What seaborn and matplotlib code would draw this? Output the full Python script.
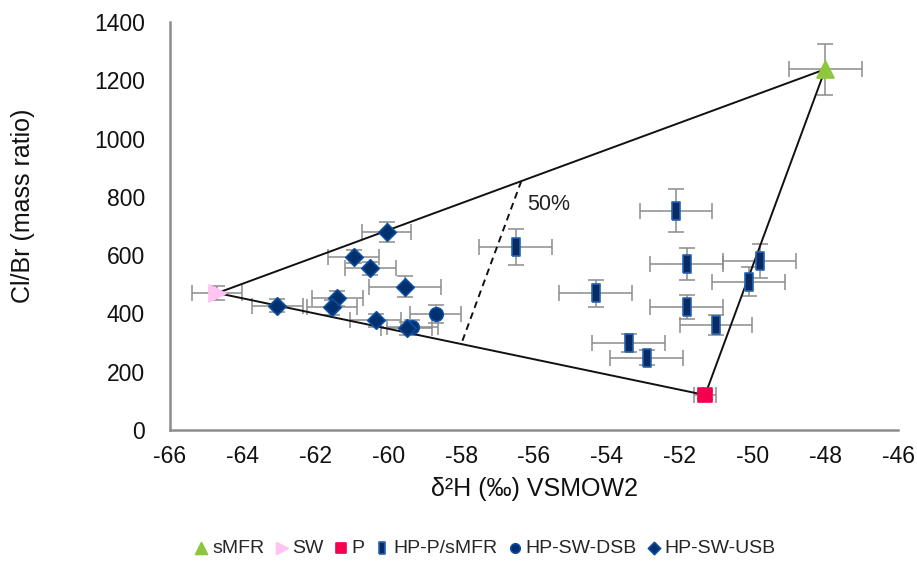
"""
Diagrama de mistura Cl/Br vs δ2H com membros extremos e amostras HP
"""

import numpy as np
import pandas as pd
import matplotlib
matplotlib.use('Agg')
import matplotlib.pyplot as plt
import seaborn as sns

# Membros extremos
end_names = ['sMFR', 'SW', 'P']
end_d2h = [-48.0, -64.7, -51.3]
end_clbr = [1238, 470, 120]
end_d2h_err = [1.0, 0.69, 0.3]
end_clbr_err = [87, 25, 15]

# HP-P/sMFR
hpp_d2h = [-52.1, -56.5, -51.8, -49.8, -50.1, -54.3, -51.8, -51.0, -53.4, -52.9]
hpp_clbr = [752, 627, 569, 580, 509, 469, 423, 360, 300, 248]
hpp_d2h_err = [1.0, 1.0, 1.0, 1.0, 1.0, 1.0, 1.0, 1.0, 1.0, 1.0]
hpp_clbr_err = [74, 62, 56, 57, 50, 47, 41, 35, 31, 26]

# HP-SW-DSB
dsb_d2h = [-58.7, -59.35]
dsb_clbr = [398, 352]
dsb_d2h_err = [0.7, 0.7]
dsb_clbr_err = [30, 25]

# HP-SW-USB
usb_d2h = [-60.05, -60.95, -60.5, -59.55, -63.05, -61.4, -61.55, -60.35, -59.5]
usb_clbr = [680, 595, 555, 492, 427, 452, 421, 377, 349]
usb_d2h_err = [0.68, 0.7, 0.7, 0.99, 0.69, 0.7, 0.7, 0.7, 0.7]
usb_clbr_err = [34, 23, 23, 35, 22, 25, 25, 22, 22]

rows = []
for i, n in enumerate(end_names):
    rows.append([n, end_d2h[i], end_clbr[i], end_d2h_err[i], end_clbr_err[i]])
for grp, xs, ys, xe, ye in [
    ('HP-P/sMFR', hpp_d2h, hpp_clbr, hpp_d2h_err, hpp_clbr_err),
    ('HP-SW-DSB', dsb_d2h, dsb_clbr, dsb_d2h_err, dsb_clbr_err),
    ('HP-SW-USB', usb_d2h, usb_clbr, usb_d2h_err, usb_clbr_err),
]:
    for a, b, c, d in zip(xs, ys, xe, ye):
        rows.append([grp, a, b, c, d])
df = pd.DataFrame(rows, columns=['group', 'd2h', 'clbr', 'd2h_err', 'clbr_err'])

sns.set_style('white')
plt.rcParams['font.family'] = ['Liberation Sans', 'DejaVu Sans']
plt.rcParams['axes.unicode_minus'] = False

fig = plt.figure(figsize=(9.17, 5.66), dpi=100)
ax = fig.add_axes([0.1854, 0.2403, 0.7939, 0.7208])

# Barras de erro
ax.errorbar(df['d2h'], df['clbr'], xerr=df['d2h_err'], yerr=df['clbr_err'],
            fmt='none', ecolor='#8c8c8c', elinewidth=1.1, capsize=5.8,
            capthick=1.1, zorder=1)

# Linhas do triângulo de mistura
sm = (end_d2h[0], end_clbr[0])
sw = (end_d2h[1], end_clbr[1])
pp = (end_d2h[2], end_clbr[2])
for a, b in [(sw, sm), (sm, pp), (pp, sw)]:
    ax.plot([a[0], b[0]], [a[1], b[1]], color='#111111', lw=1.4, zorder=2)

# Linha de 50%
m1 = ((sw[0] + sm[0]) / 2, (sw[1] + sm[1]) / 2)
m2 = ((sw[0] + pp[0]) / 2, (sw[1] + pp[1]) / 2)
ax.plot([m1[0], m2[0]], [m1[1], m2[1]], color='#111111', lw=1.4,
        ls=(0, (3.5, 2.5)), zorder=2)
ax.text(-55.6, 775, '50%', fontsize=15.5, ha='center', va='center', color='#222222')

rect = [(-0.23, -0.5), (0.23, -0.5), (0.23, 0.5), (-0.23, 0.5), (-0.23, -0.5)]
styles = {
    'sMFR': dict(marker='^', color='#8dc63f', edge='#8dc63f', s=150),
    'SW': dict(marker='>', color='#ffc4f2', edge='#ffc4f2', s=150),
    'P': dict(marker='s', color='#f5004f', edge='#f5004f', s=105),
    'HP-P/sMFR': dict(marker=rect, color='#0a2a66', edge='#2563ae', s=170),
    'HP-SW-DSB': dict(marker='o', color='#00306e', edge='#0b4ea2', s=95),
    'HP-SW-USB': dict(marker='D', color='#00306e', edge='#0b4ea2', s=80),
}

for grp, st in styles.items():
    sub = df[df['group'] == grp]
    sns.scatterplot(data=sub, x='d2h', y='clbr', marker=st['marker'], s=st['s'],
                    color=st['color'], edgecolor=st['edge'], linewidth=1.2,
                    ax=ax, zorder=3, label=grp)

ax.set_xlim(-66, -46)
ax.set_ylim(0, 1400)
ax.set_xticks(np.arange(-66, -45, 2))
ax.set_yticks(np.arange(0, 1401, 200))
ax.set_yticks(np.arange(100, 1400, 200), minor=True)

for s in ['top', 'right']:
    ax.spines[s].set_visible(False)
for s in ['left', 'bottom']:
    ax.spines[s].set_color('#8c8c8c')
    ax.spines[s].set_linewidth(1.8)

ax.tick_params(axis='both', which='major', direction='out', length=6,
               width=1.5, color='#8c8c8c', labelsize=16.5, labelcolor='#111111')
ax.tick_params(axis='y', which='minor', direction='out', length=3,
               width=1.5, color='#8c8c8c')
ax.tick_params(axis='x', which='major', pad=5)
ax.tick_params(axis='y', which='major', pad=12)

ax.set_xlabel('δ²H (‰) VSMOW2', fontsize=18, color='#111111', labelpad=6)
ax.set_ylabel('Cl/Br (mass ratio)', fontsize=18, color='#111111')
ax.yaxis.set_label_coords(-0.186, 0.55)

handles, labels = ax.get_legend_handles_labels()
ax.get_legend().remove()
fig.legend(handles, labels, loc='center', bbox_to_anchor=(0.528, 0.032),
           ncol=6, frameon=False, fontsize=14, handletextpad=0.1,
           columnspacing=0.45, markerscale=0.7, handlelength=0.9)

plt.savefig('out.png', dpi=100)
